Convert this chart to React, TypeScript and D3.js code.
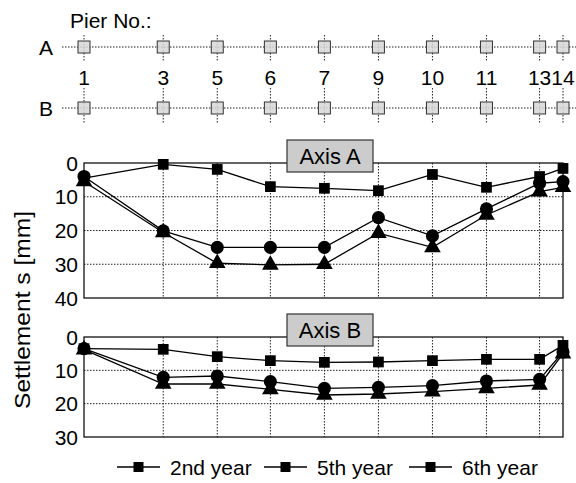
import React, { useEffect, useRef } from 'react';
import * as d3 from 'd3';

// piers along the bridge and their station (m)
const piers = ['1', '3', '5', '6', '7', '9', '10', '11', '13', '14'];
const station = [0, 44, 74, 103.5, 133.5, 163.5, 193.5, 223.5, 253, 266];

const seriesNames = ['2nd year', '5th year', '6th year'];

// settlement [mm], axis A
const axisA2nd = [4.5, 0.4, 1.9, 7.0, 7.5, 8.2, 3.4, 7.2, 4.0, 1.6];
const axisA5th = [4, 20.1, 25, 25, 25, 16.2, 21.6, 13.6, 6.0, 5.5];
const axisA6th = [5.5, 20.6, 29.7, 30.2, 30, 20.8, 25, 15.4, 8.5, 7.2];

// settlement [mm], axis B
const axisB2nd = [3.5, 3.7, 5.9, 7.1, 7.6, 7.5, 7.1, 6.7, 6.7, 2.5];
const axisB5th = [3.5, 12.1, 11.7, 13.4, 15.4, 15.1, 14.6, 13.2, 12.7, 4.5];
const axisB6th = [3.8, 14.1, 14.1, 15.7, 17.4, 17.1, 16.4, 15.4, 14.4, 5];

const ticksA = [0, 10, 20, 30, 40];
const ticksB = [0, 10, 20, 30];

const FONT = '"Liberation Sans", Arial, Helvetica, sans-serif';

const App = () => {
  const svgRef = useRef<SVGSVGElement>(null);

  useEffect(() => {
    const svg = d3.select(svgRef.current);
    svg.selectAll('*').remove();

    const width = 576;
    const plotLeft = 84;
    const plotRight = 563;

    const x = d3.scaleLinear()
      .domain([station[0], station[station.length - 1]])
      .range([plotLeft, plotRight]);

    // ---- pier layout at the top
    svg.append('text')
      .attr('x', 70).attr('y', 28)
      .style('font-family', FONT).style('font-size', '21px')
      .text('Pier No.:');

    const rows = [{ name: 'A', y: 47, v0: 35, v1: 62 }, { name: 'B', y: 108, v0: 88, v1: 124 }];
    rows.forEach(r => {
      svg.append('text')
        .attr('x', 46).attr('y', r.y + 8)
        .attr('text-anchor', 'middle')
        .style('font-family', FONT).style('font-size', '21px')
        .text(r.name);
      svg.append('line')
        .attr('x1', 62).attr('x2', width)
        .attr('y1', r.y).attr('y2', r.y)
        .attr('stroke', '#222').attr('stroke-width', 1)
        .attr('stroke-dasharray', '1.5,1.5');
      station.forEach(s => {
        svg.append('line')
          .attr('x1', x(s)).attr('x2', x(s))
          .attr('y1', r.v0).attr('y2', r.v1)
          .attr('stroke', '#222').attr('stroke-width', 1)
          .attr('stroke-dasharray', '1.5,1.5');
        svg.append('rect')
          .attr('x', x(s) - 6).attr('y', r.y - 6)
          .attr('width', 12).attr('height', 12)
          .attr('fill', 'rgba(215,215,215,0.85)')
          .attr('stroke', '#333').attr('stroke-width', 1);
      });
    });

    piers.forEach((p, i) => {
      svg.append('text')
        .attr('x', x(station[i])).attr('y', 85)
        .attr('text-anchor', 'middle')
        .style('font-family', FONT).style('font-size', '21px')
        .text(p);
    });

    // ---- settlement panels
    const symbols = [d3.symbolSquare, d3.symbolCircle, d3.symbolTriangle];
    const symbolSizes = [115, 135, 120];

    const panels = [
      { label: 'Axis A', top: 163, bottom: 298, ticks: ticksA, data: [axisA2nd, axisA5th, axisA6th] },
      { label: 'Axis B', top: 337, bottom: 437, ticks: ticksB, data: [axisB2nd, axisB5th, axisB6th] }
    ];

    panels.forEach(p => {
      const y = d3.scaleLinear()
        .domain([0, p.ticks[p.ticks.length - 1]])
        .range([p.top, p.bottom]);

      const g = svg.append('g');

      // grid
      p.ticks.slice(1, -1).forEach(t => {
        g.append('line')
          .attr('x1', plotLeft).attr('x2', plotRight)
          .attr('y1', y(t)).attr('y2', y(t))
          .attr('stroke', '#222').attr('stroke-width', 1)
          .attr('stroke-dasharray', '1.5,1.5');
      });
      station.slice(1, -1).forEach(s => {
        g.append('line')
          .attr('x1', x(s)).attr('x2', x(s))
          .attr('y1', p.top).attr('y2', p.bottom)
          .attr('stroke', '#222').attr('stroke-width', 1)
          .attr('stroke-dasharray', '1.5,1.5');
      });

      g.append('rect')
        .attr('x', plotLeft).attr('y', p.top)
        .attr('width', plotRight - plotLeft).attr('height', p.bottom - p.top)
        .attr('fill', 'none').attr('stroke', '#111').attr('stroke-width', 1.3);

      // y tick labels
      p.ticks.forEach(t => {
        g.append('text')
          .attr('x', 78).attr('y', y(t) + 7.5)
          .attr('text-anchor', 'end')
          .style('font-family', FONT).style('font-size', '21px')
          .text(t);
      });

      const line = d3.line<number>()
        .x((_, i) => x(station[i]))
        .y(d => y(d));

      p.data.forEach(vals => {
        g.append('path')
          .datum(vals)
          .attr('fill', 'none')
          .attr('stroke', '#000').attr('stroke-width', 1.3)
          .attr('d', line);
      });
      p.data.forEach((vals, k) => {
        const sym = d3.symbol().type(symbols[k]).size(symbolSizes[k]);
        g.selectAll(null)
          .data(vals)
          .enter()
          .append('path')
          .attr('transform', (d, i) => `translate(${x(station[i])},${y(d)})`)
          .attr('d', sym() as string)
          .attr('fill', '#000');
      });

      // panel title box
      g.append('rect')
        .attr('x', 287).attr('y', p.top - 23)
        .attr('width', 86).attr('height', 32)
        .attr('fill', '#cccccc').attr('stroke', '#333').attr('stroke-width', 1.2);
      g.append('text')
        .attr('x', 330).attr('y', p.top + 1)
        .attr('text-anchor', 'middle')
        .style('font-family', FONT).style('font-size', '22px')
        .text(p.label);
    });

    // y axis title
    svg.append('text')
      .attr('transform', 'rotate(-90)')
      .attr('x', -310).attr('y', 30)
      .attr('text-anchor', 'middle')
      .attr('textLength', 198)
      .attr('lengthAdjust', 'spacingAndGlyphs')
      .style('font-family', FONT).style('font-size', '22px')
      .text('Settlement s [mm]');

    // legend (reference shows square marks for every entry)
    const legendY = 467;
    const itemX = [117, 264, 409];
    seriesNames.forEach((name, i) => {
      const lg = svg.append('g').attr('transform', `translate(${itemX[i]},${legendY})`);
      lg.append('line')
        .attr('x1', 0).attr('x2', 43).attr('y1', 0).attr('y2', 0)
        .attr('stroke', '#000').attr('stroke-width', 1.3);
      lg.append('rect')
        .attr('x', 16.5).attr('y', -5).attr('width', 10).attr('height', 10)
        .attr('fill', '#000');
      lg.append('text')
        .attr('x', 53).attr('y', 7.5)
        .style('font-family', FONT).style('font-size', '21px')
        .text(name);
    });
  }, []);

  return (
    <svg
      ref={svgRef}
      width={576}
      height={483}
      style={{ position: 'absolute', left: 0, top: 0, background: '#fff' }}
    />
  );
};

export default App;
